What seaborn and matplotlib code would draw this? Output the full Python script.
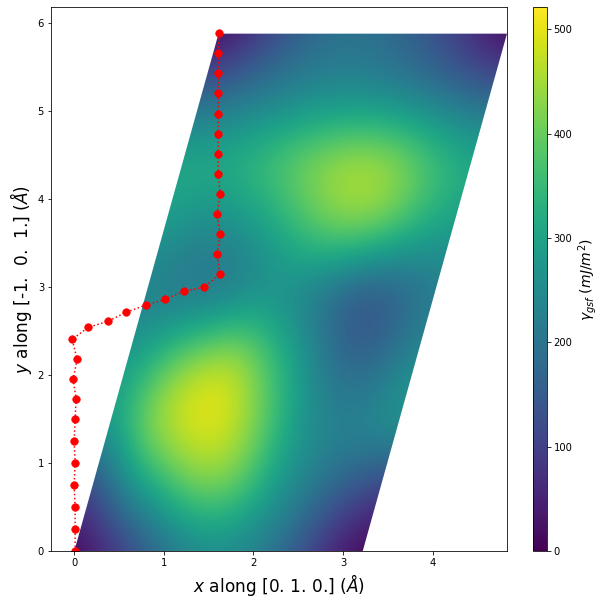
import matplotlib
matplotlib.use("Agg")
import matplotlib.pyplot as plt
import seaborn as sns
import numpy as np
from matplotlib.transforms import Affine2D
from matplotlib.patches import Polygon

# cell vectors of the slip plane (Angstrom)
a1 = [3.22, 0.0]
a2 = [1.61, 5.88]

# gamma surface on a 9x9 grid of fractional coords (rows: along a2, cols: along a1), mJ/m^2
gsf_v0 = [0, 50, 130, 210, 240, 225, 155, 60, 0]
gsf_v1 = [100, 260, 355, 430, 410, 300, 220, 150, 95]
gsf_v2 = [300, 445, 510, 521, 440, 305, 240, 250, 290]
gsf_v3 = [285, 375, 455, 470, 360, 260, 165, 170, 250]
gsf_v4 = [220, 195, 185, 225, 225, 165, 110, 150, 210]
gsf_v5 = [280, 240, 250, 300, 375, 430, 420, 345, 290]
gsf_v6 = [330, 335, 370, 420, 465, 485, 450, 380, 330]
gsf_v7 = [180, 205, 225, 245, 250, 245, 225, 200, 180]
gsf_v8 = [0, 70, 140, 185, 190, 165, 120, 60, 0]
gsf_max = 521

# minimum energy path
path_x = [0.009, 0.009, 0.009, -0.002, 0.009, -0.002, 0.009, 0.02, -0.013, 0.031, -0.024,
          0.155, 0.374, 0.575, 0.799, 1.011, 1.22, 1.45, 1.626,
          1.592, 1.629, 1.592, 1.629, 1.607, 1.607, 1.607, 1.607, 1.607, 1.607, 1.607, 1.618]
path_y = [0.0, 0.247, 0.497, 0.747, 0.997, 1.247, 1.497, 1.731, 1.951, 2.178, 2.406,
          2.542, 2.61, 2.712, 2.795, 2.86, 2.951, 3.0, 3.148,
          3.372, 3.599, 3.826, 4.053, 4.281, 4.508, 4.735, 4.962, 5.201, 5.428, 5.656, 5.883]

gsf = np.array([gsf_v0, gsf_v1, gsf_v2, gsf_v3, gsf_v4, gsf_v5, gsf_v6, gsf_v7, gsf_v8], dtype=float)
cmap = sns.color_palette("viridis", as_cmap=True)

fig = plt.figure(figsize=(606 / 72, 605 / 72), dpi=72)
ax = fig.add_axes([0.0842, 0.0893, 0.7524, 0.8987])
cax = fig.add_axes([0.880, 0.0893, 0.0221, 0.8987])

h = 0.5 / (gsf.shape[0] - 1)
im = ax.imshow(gsf, origin="lower", extent=[-h, 1 + h, -h, 1 + h], cmap=cmap,
               vmin=0, vmax=gsf_max, interpolation="bicubic", aspect="auto")
skew = Affine2D(np.array([[a1[0], a2[0], 0], [a1[1], a2[1], 0], [0, 0, 1]]))
im.set_transform(skew + ax.transData)
cell = Polygon([(0, 0), tuple(a1), (a1[0] + a2[0], a2[1]), tuple(a2)],
               closed=True, transform=ax.transData, facecolor="none", edgecolor="none")
ax.add_patch(cell)
im.set_clip_path(cell)

sns.lineplot(x=path_x, y=path_y, sort=False, estimator=None, ax=ax, color="red",
             linestyle=":", linewidth=1.5, marker="o", markersize=7.5,
             markeredgecolor="red", markerfacecolor="red")

ax.set_xlim(-0.26, 4.83)
ax.set_ylim(0, 6.18)
ax.set_xticks([0, 1, 2, 3, 4])
ax.set_yticks([0, 1, 2, 3, 4, 5, 6])
ax.set_xlabel(r"$x$ along [0. 1. 0.] ($Å$)", fontsize=17)
ax.set_ylabel(r"$y$ along [-1.  0.  1.] ($Å$)", fontsize=17)

cb = fig.colorbar(im, cax=cax)
cb.set_ticks([0, 100, 200, 300, 400, 500])
cb.set_label(r"$\gamma_{gsf}$ $(mJ/m^2)$", fontsize=14)

fig.savefig("out.png", dpi=72)
